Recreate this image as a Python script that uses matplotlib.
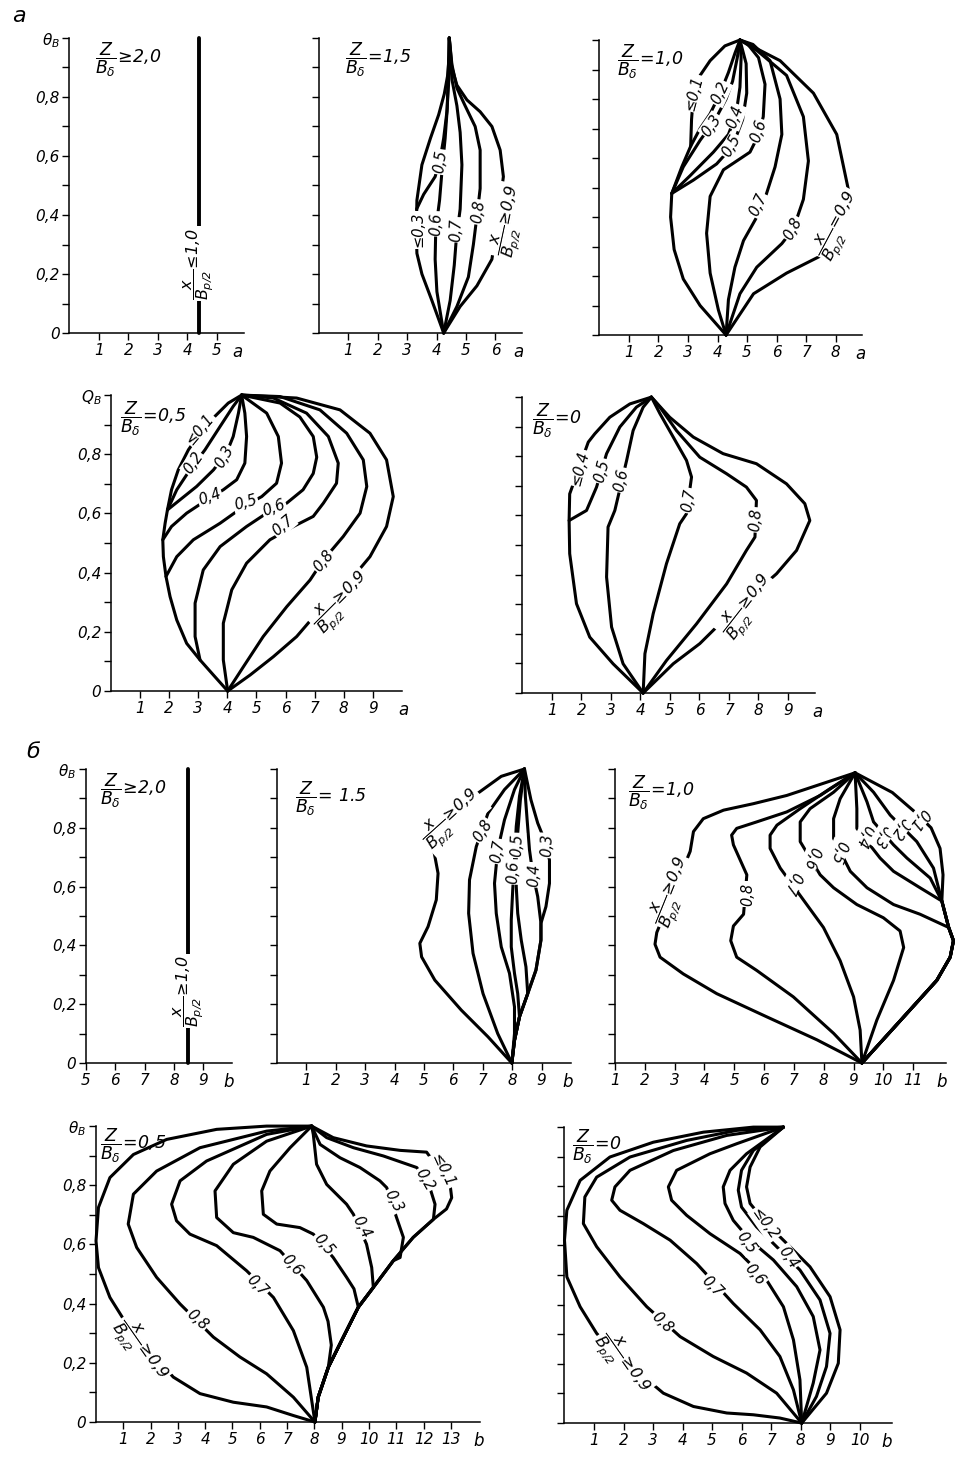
import matplotlib.pyplot as plt

plt.rcParams['font.family'] = ['DejaVu Sans']
plt.rcParams['font.style'] = 'italic'
plt.rcParams['mathtext.fontset'] = 'custom'
plt.rcParams['mathtext.rm'] = 'DejaVu Sans:italic'
plt.rcParams['mathtext.it'] = 'DejaVu Sans:italic'
plt.rcParams['mathtext.sf'] = 'DejaVu Sans:italic'

# %% data (x = a or b, y = theta_B)

Y_TICKS = [0, 0.1, 0.2, 0.3, 0.4, 0.5, 0.6, 0.7, 0.8, 0.9, 1.0]
Y_LABELS = ['0', '', '0,2', '', '0,4', '', '0,6', '', '0,8', '', r'$\theta_B$']
Y_LABELS_Q = ['0', '', '0,2', '', '0,4', '', '0,6', '', '0,8', '', r'$Q_B$']

# а)  Z/Bδ >= 2.0
A20_LINE = [(4.39, 0.0), (4.39, 1.0)]

# а)  Z/Bδ = 1.5
A15_LE03 = [(4.24, 0), (3.84, 0.11), (3.5, 0.2), (3.33, 0.27), (3.31, 0.34), (3.33, 0.45),
            (3.5, 0.57), (3.79, 0.66), (4.07, 0.74), (4.26, 0.81), (4.37, 0.87), (4.43, 0.94), (4.43, 1.0)]
A15_05 = [(3.32, 0.42), (3.56, 0.47), (3.95, 0.53), (4.12, 0.59), (4.24, 0.66), (4.35, 0.75),
          (4.41, 0.85), (4.43, 1.0)]
A15_06 = [(4.24, 0), (4.01, 0.14), (3.95, 0.25), (3.97, 0.35), (4.1, 0.45), (4.2, 0.57),
          (4.29, 0.66), (4.36, 0.76), (4.43, 1.0)]
A15_07 = [(4.24, 0), (4.46, 0.11), (4.6, 0.23), (4.67, 0.32), (4.8, 0.42), (4.86, 0.57),
          (4.8, 0.68), (4.69, 0.77), (4.52, 0.86), (4.43, 1.0)]
A15_08 = [(4.24, 0), (4.69, 0.09), (5.08, 0.19), (5.25, 0.3), (5.4, 0.42), (5.48, 0.49),
          (5.48, 0.62), (5.31, 0.7), (4.97, 0.77), (4.69, 0.83), (4.52, 0.91), (4.43, 1.0)]
A15_GE09 = [(4.24, 0), (4.8, 0.09), (5.37, 0.16), (5.88, 0.25), (6.1, 0.4), (6.27, 0.53),
            (6.16, 0.62), (5.88, 0.7), (5.48, 0.75), (5.03, 0.79), (4.69, 0.84), (4.52, 0.9), (4.43, 1.0)]

# а)  Z/Bδ = 1.0
A10_ENV = [(4.29, 0), (3.41, 0.1), (2.84, 0.19), (2.53, 0.29), (2.41, 0.4), (2.45, 0.48)]
A10_LE01 = A10_ENV + [(2.79, 0.57), (3.09, 0.64), (3.12, 0.73), (3.18, 0.81), (3.41, 0.88),
                      (3.75, 0.93), (4.25, 0.98), (4.76, 1.0)]
A10_02 = [(3.09, 0.64), (3.41, 0.7), (3.75, 0.75), (4.09, 0.82), (4.37, 0.89), (4.59, 0.955), (4.76, 1.0)]
A10_03 = [(2.45, 0.48), (2.84, 0.57), (3.41, 0.66), (3.92, 0.73), (4.29, 0.8), (4.51, 0.86),
          (4.67, 0.94), (4.76, 1.0)]
A10_04 = [(2.45, 0.48), (3.07, 0.54), (3.86, 0.62), (4.37, 0.68), (4.63, 0.75), (4.76, 0.84),
          (4.8, 0.94), (4.76, 1.0)]
A10_05 = [(2.45, 0.48), (3.18, 0.525), (3.97, 0.58), (4.51, 0.64), (4.85, 0.73), (4.99, 0.82),
          (4.97, 0.92), (4.76, 1.0)]
A10_06 = [(4.29, 0), (4.03, 0.085), (3.75, 0.21), (3.63, 0.345), (3.75, 0.47), (4.2, 0.56),
          (5.1, 0.62), (5.4, 0.68), (5.55, 0.74), (5.61, 0.85), (5.39, 0.94), (4.99, 0.99), (4.76, 1.0)]
A10_07 = [(4.29, 0), (4.37, 0.12), (4.59, 0.23), (4.88, 0.32), (5.33, 0.4), (5.63, 0.47),
          (5.95, 0.57), (6.18, 0.68), (6.12, 0.8), (5.78, 0.93), (5.2, 0.985), (4.76, 1.0)]
A10_08 = [(4.29, 0), (4.76, 0.14), (5.33, 0.23), (6.18, 0.31), (6.57, 0.36), (6.91, 0.46),
          (7.08, 0.59), (6.91, 0.74), (6.34, 0.88), (5.33, 0.965), (4.76, 1.0)]
A10_09 = [(4.29, 0), (5.22, 0.14), (6.34, 0.21), (7.53, 0.27), (8.1, 0.37), (8.44, 0.49),
          (8.04, 0.68), (7.25, 0.82), (6.12, 0.93), (4.76, 1.0)]

# а)  Z/Bδ = 0.5
A05_ENV = [(4.01, 0), (3.52, 0.054), (3.06, 0.105), (2.6, 0.161), (2.26, 0.24), (2.03, 0.319), (1.89, 0.387)]
A05_LE01 = A05_ENV + [(1.8, 0.454), (1.78, 0.511), (1.86, 0.567), (1.94, 0.612), (2.08, 0.68),
                      (2.31, 0.747), (2.66, 0.815), (3.06, 0.871), (3.57, 0.928), (4.03, 0.973), (4.49, 1.0)]
A05_02 = [(1.94, 0.612), (2.26, 0.68), (2.71, 0.747), (3.23, 0.815), (3.75, 0.894), (4.2, 0.962), (4.49, 1.0)]
A05_03 = [(1.94, 0.612), (2.37, 0.646), (2.94, 0.691), (3.52, 0.747), (3.97, 0.804), (4.2, 0.86),
          (4.38, 0.939), (4.49, 1.0)]
A05_04 = [(1.78, 0.511), (2.08, 0.556), (2.6, 0.601), (3.29, 0.646), (3.86, 0.68), (4.32, 0.714),
          (4.6, 0.77), (4.66, 0.86), (4.6, 0.939), (4.49, 1.0)]
A05_05 = [(1.89, 0.387), (2.26, 0.454), (2.83, 0.511), (3.75, 0.567), (4.55, 0.623), (5.18, 0.657),
          (5.69, 0.702), (5.86, 0.77), (5.75, 0.86), (5.35, 0.939), (4.49, 1.0)]
A05_06 = [(3.06, 0.105), (2.89, 0.184), (2.89, 0.297), (3.17, 0.409), (3.75, 0.488), (4.66, 0.556),
          (5.35, 0.601), (6.04, 0.635), (6.6, 0.68), (6.95, 0.735), (7.07, 0.79), (6.95, 0.86),
          (6.49, 0.926), (5.81, 0.973), (4.49, 1.0)]
A05_07 = [(4.01, 0), (3.86, 0.105), (3.86, 0.229), (4.15, 0.342), (4.66, 0.432), (5.46, 0.511),
          (6.27, 0.556), (6.95, 0.59), (7.3, 0.635), (7.75, 0.702), (7.81, 0.77), (7.47, 0.86),
          (6.72, 0.939), (5.58, 0.99), (4.49, 1.0)]
A05_08 = [(4.01, 0), (4.55, 0.082), (5.23, 0.184), (6.04, 0.285), (6.84, 0.375), (7.3, 0.443),
          (7.98, 0.522), (8.56, 0.601), (8.79, 0.691), (8.67, 0.781), (8.1, 0.871), (7.18, 0.95),
          (5.81, 0.995), (4.49, 1.0)]
A05_GE09 = [(4.01, 0), (4.78, 0.054), (5.58, 0.116), (6.38, 0.184), (7.07, 0.263), (7.75, 0.319),
            (8.9, 0.454), (9.47, 0.556), (9.7, 0.657), (9.47, 0.781), (8.9, 0.871), (7.87, 0.95),
            (6.38, 0.99), (4.49, 1.0)]

# а)  Z/Bδ = 0
A00_LE04 = [(4.09, 0), (3.07, 0.099), (2.28, 0.189), (1.83, 0.302), (1.6, 0.471), (1.58, 0.583),
            (1.6, 0.673), (2.23, 0.848), (2.45, 0.876), (2.96, 0.932), (3.64, 0.977), (4.37, 1.0)]
A00_05 = [(1.58, 0.583), (2.17, 0.617), (2.51, 0.696), (2.85, 0.809), (3.3, 0.899), (3.86, 0.966), (4.37, 1.0)]
A00_06 = [(4.09, 0), (3.41, 0.099), (3.02, 0.223), (2.85, 0.392), (2.9, 0.561), (3.13, 0.617),
          (3.53, 0.786), (3.75, 0.887), (4.09, 0.966), (4.37, 1.0)]
A00_07 = [(4.09, 0), (4.15, 0.133), (4.43, 0.268), (4.88, 0.437), (5.33, 0.572), (5.56, 0.606),
          (5.73, 0.73), (5.56, 0.786), (5.11, 0.865), (4.66, 0.944), (4.37, 1.0)]
A00_08 = [(4.09, 0), (4.88, 0.11), (5.9, 0.234), (6.92, 0.369), (7.59, 0.482), (7.88, 0.527),
          (7.93, 0.651), (7.59, 0.696), (6.92, 0.741), (6.01, 0.797), (5.22, 0.887), (4.66, 0.966), (4.37, 1.0)]
A00_GE09 = [(4.09, 0), (5.11, 0.099), (6.01, 0.167), (6.8, 0.245), (8.61, 0.403), (9.29, 0.482),
            (9.74, 0.583), (9.57, 0.64), (8.95, 0.707), (7.93, 0.775), (6.8, 0.809), (5.79, 0.865),
            (4.99, 0.932), (4.37, 1.0)]

# б)  Z/Bδ >= 2.0
B20_LINE = [(8.48, 0.0), (8.48, 1.0)]

# б)  Z/Bδ = 1.5
B15_R = [(7.99, 0), (8.08, 0.077), (8.25, 0.157), (8.53, 0.236), (8.81, 0.316), (8.98, 0.418), (8.98, 0.475)]
B15_03 = B15_R + [(9.15, 0.532), (9.27, 0.611), (9.27, 0.691), (9.1, 0.759), (8.87, 0.816),
                  (8.64, 0.895), (8.42, 1.0)]
B15_04 = B15_R + [(8.87, 0.566), (8.7, 0.645), (8.59, 0.725), (8.51, 0.827), (8.45, 0.907), (8.42, 1.0)]
B15_05 = B15_R[:4] + [(8.47, 0.327), (8.31, 0.418), (8.19, 0.509), (8.14, 0.6), (8.14, 0.691),
                      (8.19, 0.782), (8.28, 0.895), (8.42, 1.0)]
B15_06 = B15_R[:3] + [(8.19, 0.236), (8.08, 0.305), (7.97, 0.395), (7.97, 0.486), (8.02, 0.589),
                      (8.08, 0.691), (8.14, 0.805), (8.25, 0.907), (8.42, 1.0)]
B15_07 = [(7.99, 0), (8.08, 0.1), (8.08, 0.191), (7.91, 0.305), (7.63, 0.395), (7.46, 0.509),
          (7.4, 0.611), (7.51, 0.725), (7.74, 0.827), (8.08, 0.93), (8.42, 1.0)]
B15_08 = [(7.99, 0), (7.51, 0.1), (7.01, 0.236), (6.67, 0.373), (6.52, 0.509), (6.55, 0.623),
          (6.78, 0.736), (7.18, 0.85), (7.74, 0.93), (8.42, 1.0)]
B15_GE09 = [(7.99, 0), (7.18, 0.089), (6.27, 0.18), (5.37, 0.282), (4.92, 0.361), (4.86, 0.407),
            (5.14, 0.464), (5.42, 0.555), (5.48, 0.645), (5.31, 0.736), (5.5, 0.8), (6.05, 0.861),
            (6.84, 0.918), (7.63, 0.975), (8.42, 1.0)]

# б)  Z/Bδ = 1.0
B10_GE09 = [(9.28, 0), (7.77, 0.079), (6.09, 0.157), (4.41, 0.236), (3.29, 0.303), (2.51, 0.36),
            (2.34, 0.404), (2.4, 0.444), (2.95, 0.58), (3.52, 0.72), (3.63, 0.787), (3.96, 0.831),
            (4.64, 0.86), (5.64, 0.882), (6.76, 0.91), (8.1, 0.955), (9.05, 0.987)]
B10_08 = [(9.28, 0), (8.33, 0.101), (6.98, 0.225), (5.75, 0.315), (5.08, 0.36), (4.88, 0.416),
          (4.97, 0.466), (5.31, 0.506), (5.42, 0.64), (4.97, 0.742), (4.91, 0.775), (5.08, 0.798),
          (5.75, 0.82), (6.76, 0.854), (7.88, 0.91), (9.05, 0.987)]
B10_07 = [(9.28, 0), (9.22, 0.112), (9.0, 0.225), (8.55, 0.348), (7.99, 0.461), (7.43, 0.539),
          (6.54, 0.663), (6.2, 0.73), (6.2, 0.775), (6.43, 0.809), (7.21, 0.865), (8.21, 0.933), (9.05, 0.987)]
B10_06 = [(9.28, 0), (9.78, 0.146), (10.34, 0.281), (10.68, 0.393), (10.56, 0.449), (10.0, 0.494),
          (9.11, 0.539), (8.33, 0.596), (7.88, 0.64), (7.21, 0.753), (7.21, 0.82), (7.54, 0.865),
          (8.33, 0.921), (9.05, 0.987)]
B10_R = [(9.28, 0), (10.79, 0.169), (11.79, 0.281), (12.24, 0.36), (12.35, 0.416), (12.19, 0.461)]
B10_05 = B10_R + [(11.23, 0.506), (10.34, 0.539), (9.45, 0.596), (8.89, 0.652), (8.33, 0.764),
                  (8.33, 0.831), (8.55, 0.899), (9.05, 0.987)]
B10_04 = B10_R + [(11.96, 0.551), (11.23, 0.596), (10.34, 0.652), (9.89, 0.697), (9.11, 0.798),
                  (9.11, 0.865), (9.05, 0.987)]
B10_03 = B10_R + [(11.96, 0.551), (11.57, 0.629), (10.79, 0.697), (10.34, 0.742), (9.67, 0.82),
                  (9.45, 0.888), (9.05, 0.987)]
B10_02 = B10_R + [(11.96, 0.551), (11.68, 0.663), (11.12, 0.753), (10.23, 0.843), (9.67, 0.921), (9.05, 0.987)]
B10_01 = B10_R + [(11.96, 0.551), (12.0, 0.64), (11.9, 0.73), (11.6, 0.8), (11.1, 0.85), (10.3, 0.92), (9.05, 0.987)]

# б)  Z/Bδ = 0.5
B05_R = [(8.02, 0), (8.14, 0.084), (8.51, 0.185), (9.06, 0.287), (9.61, 0.388), (10.16, 0.455),
         (10.89, 0.545), (11.62, 0.624), (12.36, 0.685), (12.84, 0.72)]
B05_LE01 = B05_R + [(13.03, 0.758), (12.97, 0.803), (12.11, 0.912), (11.14, 0.918), (9.91, 0.933),
                    (8.69, 0.961), (7.9, 1.0)]
B05_02 = B05_R[:9] + [(12.42, 0.736), (12.23, 0.792), (11.75, 0.86), (10.53, 0.899), (9.43, 0.927),
                      (8.45, 0.961), (7.9, 1.0)]
B05_03 = B05_R[:7] + [(11.14, 0.556), (11.26, 0.624), (11.01, 0.691), (10.65, 0.792), (10.4, 0.815),
                      (9.67, 0.86), (8.94, 0.893), (8.21, 0.938), (7.9, 1.0)]
B05_04 = B05_R[:6] + [(10.1, 0.522), (9.91, 0.601), (9.43, 0.702), (9.18, 0.736), (8.45, 0.803),
                      (8.08, 0.871), (7.96, 0.972), (7.9, 1.0)]
B05_05 = B05_R[:5] + [(9.45, 0.45), (9.18, 0.489), (8.69, 0.556), (7.96, 0.635), (7.47, 0.657),
                      (6.62, 0.669), (6.13, 0.702), (6.07, 0.781), (6.37, 0.848), (7.11, 0.927), (7.9, 1.0)]
B05_06 = B05_R[:3] + [(8.62, 0.26), (8.5, 0.34), (8.33, 0.388), (7.72, 0.478), (6.74, 0.579),
                      (5.76, 0.624), (5.03, 0.64), (4.42, 0.691), (4.36, 0.781), (5.03, 0.871),
                      (6.25, 0.949), (7.9, 1.0)]
B05_07 = [(8.02, 0), (7.72, 0.185), (7.23, 0.309), (6.5, 0.421), (5.52, 0.511), (4.42, 0.596),
          (3.44, 0.635), (2.95, 0.68), (2.77, 0.736), (3.08, 0.815), (4.05, 0.882), (6.25, 0.972), (7.9, 1.0)]
B05_08 = [(8.02, 0), (7.23, 0.084), (6.25, 0.163), (5.27, 0.22), (4.3, 0.287), (3.08, 0.399),
          (2.22, 0.489), (1.49, 0.59), (1.18, 0.669), (1.37, 0.77), (2.22, 0.848), (3.81, 0.927),
          (6.25, 0.983), (7.9, 1.0)]
B05_GE09 = [(8.02, 0), (7.23, 0.022), (6.25, 0.051), (5.03, 0.067), (3.81, 0.096), (2.83, 0.152),
            (1.12, 0.331), (0.51, 0.421), (0.09, 0.522), (0.0, 0.612), (0.09, 0.725), (0.51, 0.826),
            (1.37, 0.904), (2.59, 0.955), (4.42, 0.989), (6.25, 1.0), (7.9, 1.0)]

# б)  Z/Bδ = 0
B00_LE02 = [(8.04, 0), (8.88, 0.101), (9.28, 0.202), (9.34, 0.315), (9.0, 0.427), (8.32, 0.528),
            (7.53, 0.607), (6.85, 0.674), (6.29, 0.742), (6.17, 0.798), (6.29, 0.865), (6.63, 0.933), (7.42, 1.0)]
B00_04 = [(8.04, 0), (8.54, 0.09), (8.88, 0.191), (9.0, 0.303), (8.66, 0.416), (7.98, 0.517),
          (7.19, 0.596), (6.51, 0.663), (6.0, 0.73), (5.89, 0.787), (6.0, 0.854), (6.4, 0.921), (7.42, 1.0)]
B00_05 = [(8.04, 0), (8.43, 0.135), (8.66, 0.247), (8.43, 0.36), (7.87, 0.461), (7.08, 0.551),
          (6.29, 0.618), (5.72, 0.685), (5.44, 0.742), (5.38, 0.798), (5.61, 0.854), (6.17, 0.91), (7.42, 1.0)]
B00_06 = [(8.04, 0), (7.98, 0.146), (7.76, 0.281), (7.42, 0.393), (6.85, 0.483), (5.95, 0.573),
          (4.93, 0.64), (4.14, 0.702), (3.63, 0.753), (3.52, 0.798), (3.8, 0.854), (4.93, 0.91),
          (5.84, 0.944), (7.42, 1.0)]
B00_07 = [(8.04, 0), (7.76, 0.112), (7.3, 0.225), (6.63, 0.315), (5.72, 0.404), (4.48, 0.539),
          (3.58, 0.618), (2.67, 0.674), (1.88, 0.719), (1.6, 0.753), (1.71, 0.798), (2.22, 0.854),
          (3.69, 0.921), (5.5, 0.972), (7.42, 1.0)]
B00_08 = [(8.04, 0), (7.19, 0.101), (6.17, 0.169), (5.04, 0.225), (3.92, 0.292), (2.79, 0.393),
          (1.88, 0.494), (1.09, 0.596), (0.64, 0.674), (0.69, 0.764), (1.09, 0.831), (2.22, 0.899),
          (4.14, 0.955), (5.84, 0.989), (7.42, 1.0)]
B00_GE09 = [(8.04, 0), (7.3, 0.017), (6.4, 0.028), (5.5, 0.034), (4.37, 0.056), (3.35, 0.101),
            (1.54, 0.253), (1.09, 0.303), (0.53, 0.393), (0.08, 0.494), (0.0, 0.618), (0.08, 0.719),
            (0.53, 0.82), (1.54, 0.899), (3.01, 0.949), (4.71, 0.983), (6.4, 1.0), (7.42, 1.0)]

# label texts
def xfrac(rest):
    return r'$\dfrac{x}{B_{p/2}}\!' + rest + '$'

def zfrac(rest):
    return r'$\dfrac{Z}{B_{\delta}}\!' + rest + '$'

# (text, x, y, rotation)
A20_TAGS = [(xfrac(r'\leq\!1{,}0'), 4.39, 0.235, 90)]
A15_TAGS = [('≤0,3', 3.36, 0.35, 90), ('0,5', 4.12, 0.58, 82), ('0,6', 4.0, 0.37, 88),
            ('0,7', 4.66, 0.35, 88), ('0,8', 5.42, 0.41, 82), (xfrac(r'\geq\!0{,}9'), 6.5, 0.38, 78)]
A10_TAGS = [('≤0,1', 3.2, 0.82, 75), ('0,2', 4.09, 0.82, 65), ('0,3', 3.8, 0.71, 55),
            ('0,4', 4.6, 0.74, 70), ('0,5', 4.48, 0.64, 60), ('0,6', 5.4, 0.69, 72),
            ('0,7', 5.39, 0.44, 65), ('0,8', 6.57, 0.36, 62), (xfrac(r'=\!0{,}9'), 8.15, 0.37, 62)]
A05_TAGS = [('≤0,1', 3.06, 0.885, 50), ('0,2', 2.83, 0.77, 55), ('0,3', 3.9, 0.79, 60),
            ('0,4', 3.4, 0.655, 20), ('0,5', 4.63, 0.635, 15), ('0,6', 5.6, 0.62, 20),
            ('0,7', 5.92, 0.56, 40), ('0,8', 7.3, 0.44, 50), (xfrac(r'\geq\!0{,}9'), 7.95, 0.3, 45)]
A00_TAGS = [('≤0,4', 1.94, 0.76, 75), ('0,5', 2.7, 0.75, 75), ('0,6', 3.35, 0.72, 78),
            ('0,7', 5.64, 0.65, 80), ('0,8', 7.92, 0.585, 85), (xfrac(r'\geq\!0{,}9'), 7.65, 0.29, 52)]
B20_TAGS = [(xfrac(r'\geq\!1{,}0'), 8.48, 0.245, 90)]
B15_TAGS = [(xfrac(r'\geq\!0{,}9'), 5.95, 0.83, 42), ('0,8', 7.0, 0.79, 58), ('0,7', 7.5, 0.72, 80),
            ('0,6', 8.02, 0.65, 88), ('0,5', 8.17, 0.74, 88), ('0,4', 8.75, 0.64, 88), ('0,3', 9.2, 0.74, 88)]
B10_TAGS = [(xfrac(r'\geq\!0{,}9'), 2.96, 0.58, 68), ('0,8', 5.44, 0.575, 90), ('0,7', 6.93, 0.612, -115),
            ('0,6', 7.6, 0.697, -110), ('0,5', 8.49, 0.719, -110), ('0,4', 9.35, 0.77, -115),
            ('0,3', 9.95, 0.77, -120), ('0,2', 10.55, 0.8, -125), ('0,1', 11.2, 0.83, -130)]
B05_TAGS = [('≤0,1', 12.72, 0.85, -65), ('0,2', 12.05, 0.82, -60), ('0,3', 10.89, 0.747, -62),
            ('0,4', 9.73, 0.66, -62), ('0,5', 8.33, 0.6, -50), ('0,6', 7.17, 0.53, -48),
            ('0,7', 5.89, 0.46, -45), ('0,8', 3.69, 0.345, -42), (xfrac(r'\geq\!0{,}9'), 1.6, 0.24, -55)]
B00_TAGS = [('≤0,2', 6.8, 0.674, -55), ('0,4', 7.59, 0.56, -55), ('0,5', 6.15, 0.61, -55),
            ('0,6', 6.45, 0.5, -50), ('0,7', 5.0, 0.46, -45), ('0,8', 3.3, 0.34, -45),
            (xfrac(r'\geq\!0{,}9'), 1.95, 0.2, -55)]


# %% drawing

fig = plt.figure(figsize=(9.61, 14.60), dpi=100)


def panel(rect, xlim, xticks, ylabels, letter, letter_x):
    ax = fig.add_axes(rect)
    ax.set_xlim(*xlim)
    ax.set_ylim(0, 1)
    ax.patch.set_alpha(0)
    ax.spines[['top', 'right']].set_visible(False)
    ax.spines[['left', 'bottom']].set_linewidth(1.1)
    ax.set_xticks(xticks)
    ax.set_xticklabels([str(t) for t in xticks])
    ax.set_yticks(Y_TICKS)
    ax.set_yticklabels(ylabels if ylabels else [''] * len(Y_TICKS))
    ax.tick_params(direction='out', length=5, width=1.0, labelsize=11, pad=2)
    ax.annotate(letter, xy=(letter_x, 0), xycoords=('data', 'axes fraction'),
                xytext=(0, -7), textcoords='offset points',
                ha='center', va='top', fontsize=12)
    return ax


def draw(ax, curves, lw=2.2):
    for pts in curves:
        xs, ys = zip(*pts)
        ax.plot(xs, ys, color='black', lw=lw, solid_joinstyle='round',
                solid_capstyle='round', clip_on=False, zorder=3)


def tag(ax, tags):
    for s, x, y, r in tags:
        size = 11.5 if s.startswith('$') else 10.5
        ax.text(x, y, s, rotation=r, rotation_mode='anchor', ha='center', va='center',
                fontsize=size, zorder=5,
                bbox=dict(boxstyle='square,pad=0.08', fc='white', ec='none'))


def title(ax, x, y, s):
    ax.text(x, y, s, ha='left', va='top', fontsize=12.5, zorder=6)


# а
ax = panel([0.0723, 0.7719, 0.1811, 0.2021], (0, 5.9), [1, 2, 3, 4, 5], Y_LABELS, 'a', 5.7)
draw(ax, [A20_LINE], lw=2.8)
tag(ax, A20_TAGS)
title(ax, 0.86, 0.99, zfrac(r'\geq\!2{,}0'))

ax = panel([0.3319, 0.7719, 0.2112, 0.2021], (0, 6.9), [1, 2, 3, 4, 5, 6], None, 'a', 6.77)
draw(ax, [A15_LE03, A15_05, A15_06, A15_07, A15_08, A15_GE09])
tag(ax, A15_TAGS)
title(ax, 0.88, 0.99, zfrac(r'=\!1{,}5'))

ax = panel([0.6238, 0.7705, 0.2733, 0.2021], (0, 8.9), [1, 2, 3, 4, 5, 6, 7, 8], None, 'a', 8.83)
draw(ax, [A10_LE01, A10_02, A10_03, A10_04, A10_05, A10_06, A10_07, A10_08, A10_09])
tag(ax, A10_TAGS)
title(ax, 0.6, 0.99, zfrac(r'=\!1{,}0'))

ax = panel([0.1155, 0.5267, 0.3028, 0.2027], (0, 10.0), list(range(1, 10)), Y_LABELS_Q, 'a', 10.05)
draw(ax, [A05_LE01, A05_02, A05_03, A05_04, A05_05, A05_06, A05_07, A05_08, A05_GE09])
tag(ax, A05_TAGS)
title(ax, 0.31, 0.985, zfrac(r'=\!0{,}5'))

ax = panel([0.5437, 0.5253, 0.3039, 0.2027], (0, 9.9), list(range(1, 10)), None, 'a', 10.0)
draw(ax, [A00_LE04, A00_05, A00_06, A00_07, A00_08, A00_GE09])
tag(ax, A00_TAGS)
title(ax, 0.32, 0.985, zfrac(r'=\!0'))

# б
ax = panel([0.0895, 0.2719, 0.1519, 0.2014], (5, 9.97), [5, 6, 7, 8, 9], Y_LABELS, 'b', 9.85)
draw(ax, [B20_LINE], lw=2.8)
tag(ax, B20_TAGS)
title(ax, 5.48, 0.99, zfrac(r'\geq\!2{,}0'))

ax = panel([0.2882, 0.2719, 0.3059, 0.2014], (0, 10.0), list(range(1, 10)), None, 'b', 9.9)
draw(ax, [B15_03, B15_04, B15_05, B15_06, B15_07, B15_08, B15_GE09])
tag(ax, B15_TAGS)
title(ax, 0.61, 0.965, zfrac(r'=\,1.5'))

ax = panel([0.64, 0.2719, 0.3444, 0.2014], (1, 12.1), list(range(1, 12)), None, 'b', 11.97)
draw(ax, [B10_GE09, B10_08, B10_07, B10_06, B10_05, B10_04, B10_03, B10_02, B10_01])
tag(ax, B10_TAGS)
title(ax, 1.44, 0.985, zfrac(r'=\!1{,}0'))

ax = panel([0.0999, 0.026, 0.3991, 0.2027], (0, 14.05), list(range(1, 14)), Y_LABELS, 'b', 14.0)
draw(ax, [B05_LE01, B05_02, B05_03, B05_04, B05_05, B05_06, B05_07, B05_08, B05_GE09])
tag(ax, B05_TAGS)
title(ax, 0.15, 1.0, zfrac(r'=\!0{,}5'))

ax = panel([0.5874, 0.0253, 0.3408, 0.2027], (0, 11.1), list(range(1, 11)), None, 'b', 10.93)
draw(ax, [B00_LE02, B00_04, B00_05, B00_06, B00_07, B00_08, B00_GE09])
tag(ax, B00_TAGS)
title(ax, 0.25, 1.0, zfrac(r'=\!0'))

# section letters
fig.text(0.013, 1 - 16 / 1460, 'а', fontsize=16, ha='left', va='center')
fig.text(0.027, 1 - 752 / 1460, 'б', fontsize=16, ha='left', va='center')

fig.savefig('out.png', dpi=100)
